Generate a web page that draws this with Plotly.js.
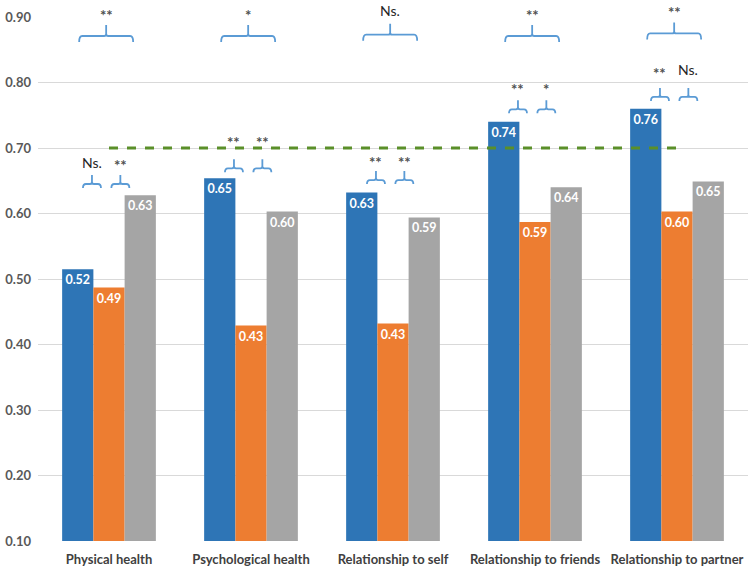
<!DOCTYPE html>
<html><head><meta charset="utf-8">
<script src="https://cdn.plot.ly/plotly-3.0.1.min.js"></script>
<style>html,body{margin:0;padding:0;background:#fff}#c{width:755px;height:566px}</style>
</head><body><div id="c"></div>
<script>
const categories = ["Physical health","Psychological health","Relationship to self","Relationship to friends","Relationship to partner"];
const seriesA = [0.515, 0.654, 0.632, 0.740, 0.760];
const seriesB = [0.487, 0.429, 0.432, 0.587, 0.603];
const seriesC = [0.628, 0.603, 0.594, 0.640, 0.649];
const refLine = 0.70;
const yTicks = [0.10,0.20,0.30,0.40,0.50,0.60,0.70,0.80,0.90];
// group-level significance (braces above groups)
const bigSig = ["**","*","Ns.","**","**"];
const bigBraceY = [0.871, 0.871, 0.873, 0.871, 0.875];
// pairwise significance (two small braces per group)
const smallSigLeft = ["Ns.","**","**","**","**"];
const smallSigRight = ["**","**","**","*","Ns."];
const smallBraceY = [0.645, 0.669, 0.651, 0.759, 0.778];

const colors = ["#2E75B6","#ED7D31","#A5A5A5"];
const font = "Lato, 'Open Sans', sans-serif";
const smallLabelShift = [21, 28, 20, 22, 26];

function barTrace(vals, color){
  return {type:"bar", x:categories, y:vals, marker:{color:color},
    text:vals.map(v=>(Math.round(v*100)/100).toFixed(2)), textposition:"inside", insidetextanchor:"end",
    textangle:0, constraintext:"none",
    textfont:{color:"#fff", size:12.5, family:font, weight:"bold"},
    hoverinfo:"skip", cliponaxis:false};
}
const traces = [barTrace(seriesA,colors[0]), barTrace(seriesB,colors[1]), barTrace(seriesC,colors[2]),
  {type:"scatter", mode:"lines", x:[categories[0], categories[categories.length-1]], y:[refLine, refLine],
   line:{color:"#5A8F29", width:3, dash:"dash"}, hoverinfo:"skip"}];

function bracePath(w, down, up){
  return `M ${-w},${-down} Q ${-w},0 ${-w+3},0 L -2,0 Q 0,0 0,2 L 0,${up} M 2,0 Q 0,0 0,2 M ${w-3},0 L 2,0 M ${w-3},0 Q ${w},0 ${w},${-down}`;
}
const shapes = [], annotations = [];
const braceColor = "#5B9BD5";
function addBrace(xc, y, w, down, up, label, shift){
  shapes.push({type:"path", xref:"x", yref:"y", xsizemode:"pixel", ysizemode:"pixel",
    xanchor:xc, yanchor:y, path:bracePath(w,down,up), line:{color:braceColor, width:1.8}});
  const isNs = label.indexOf("N")===0;
  annotations.push({xref:"x", yref:"y", x:xc, y:y, yshift:isNs?shift+1:shift-2, text:label, showarrow:false,
    yanchor:"middle", xanchor:"center",
    font:{family:font, size:isNs?14:15, color:isNs?"#262626":"#505050", weight:isNs?"normal":"bold"}});
}
categories.forEach((c,i)=>{
  addBrace(i-0.02, bigBraceY[i], 27, 6, 11, bigSig[i], 23);
  addBrace(i-0.12, smallBraceY[i], 9, 4, 9, smallSigLeft[i], smallLabelShift[i]);
  addBrace(i+0.08, smallBraceY[i], 9, 4, 9, smallSigRight[i], smallLabelShift[i]);
});

const layout = {
  width:755, height:566, margin:{l:38, r:7, t:17, b:25},
  paper_bgcolor:"#fff", plot_bgcolor:"#fff", showlegend:false,
  barmode:"group", bargap:0.34, bargroupgap:0,
  xaxis:{type:"category", showgrid:false, zeroline:false, showline:false, ticks:"",
    tickfont:{family:font, size:13, color:"#404040", weight:"bold"}, ticklabelstandoff:9, fixedrange:true},
  yaxis:{range:[0.1,0.9], tickvals:yTicks, ticktext:yTicks.map(v=>v.toFixed(2)),
    showgrid:true, gridcolor:"#D9D9D9", gridwidth:1, zeroline:false, showline:false, ticks:"",
    tickfont:{family:font, size:13, color:"#595959", weight:"bold"}, ticklabelstandoff:6},
  shapes:shapes, annotations:annotations
};
Plotly.newPlot("c", traces, layout, {displayModeBar:false, staticPlot:true});
</script></body></html>
